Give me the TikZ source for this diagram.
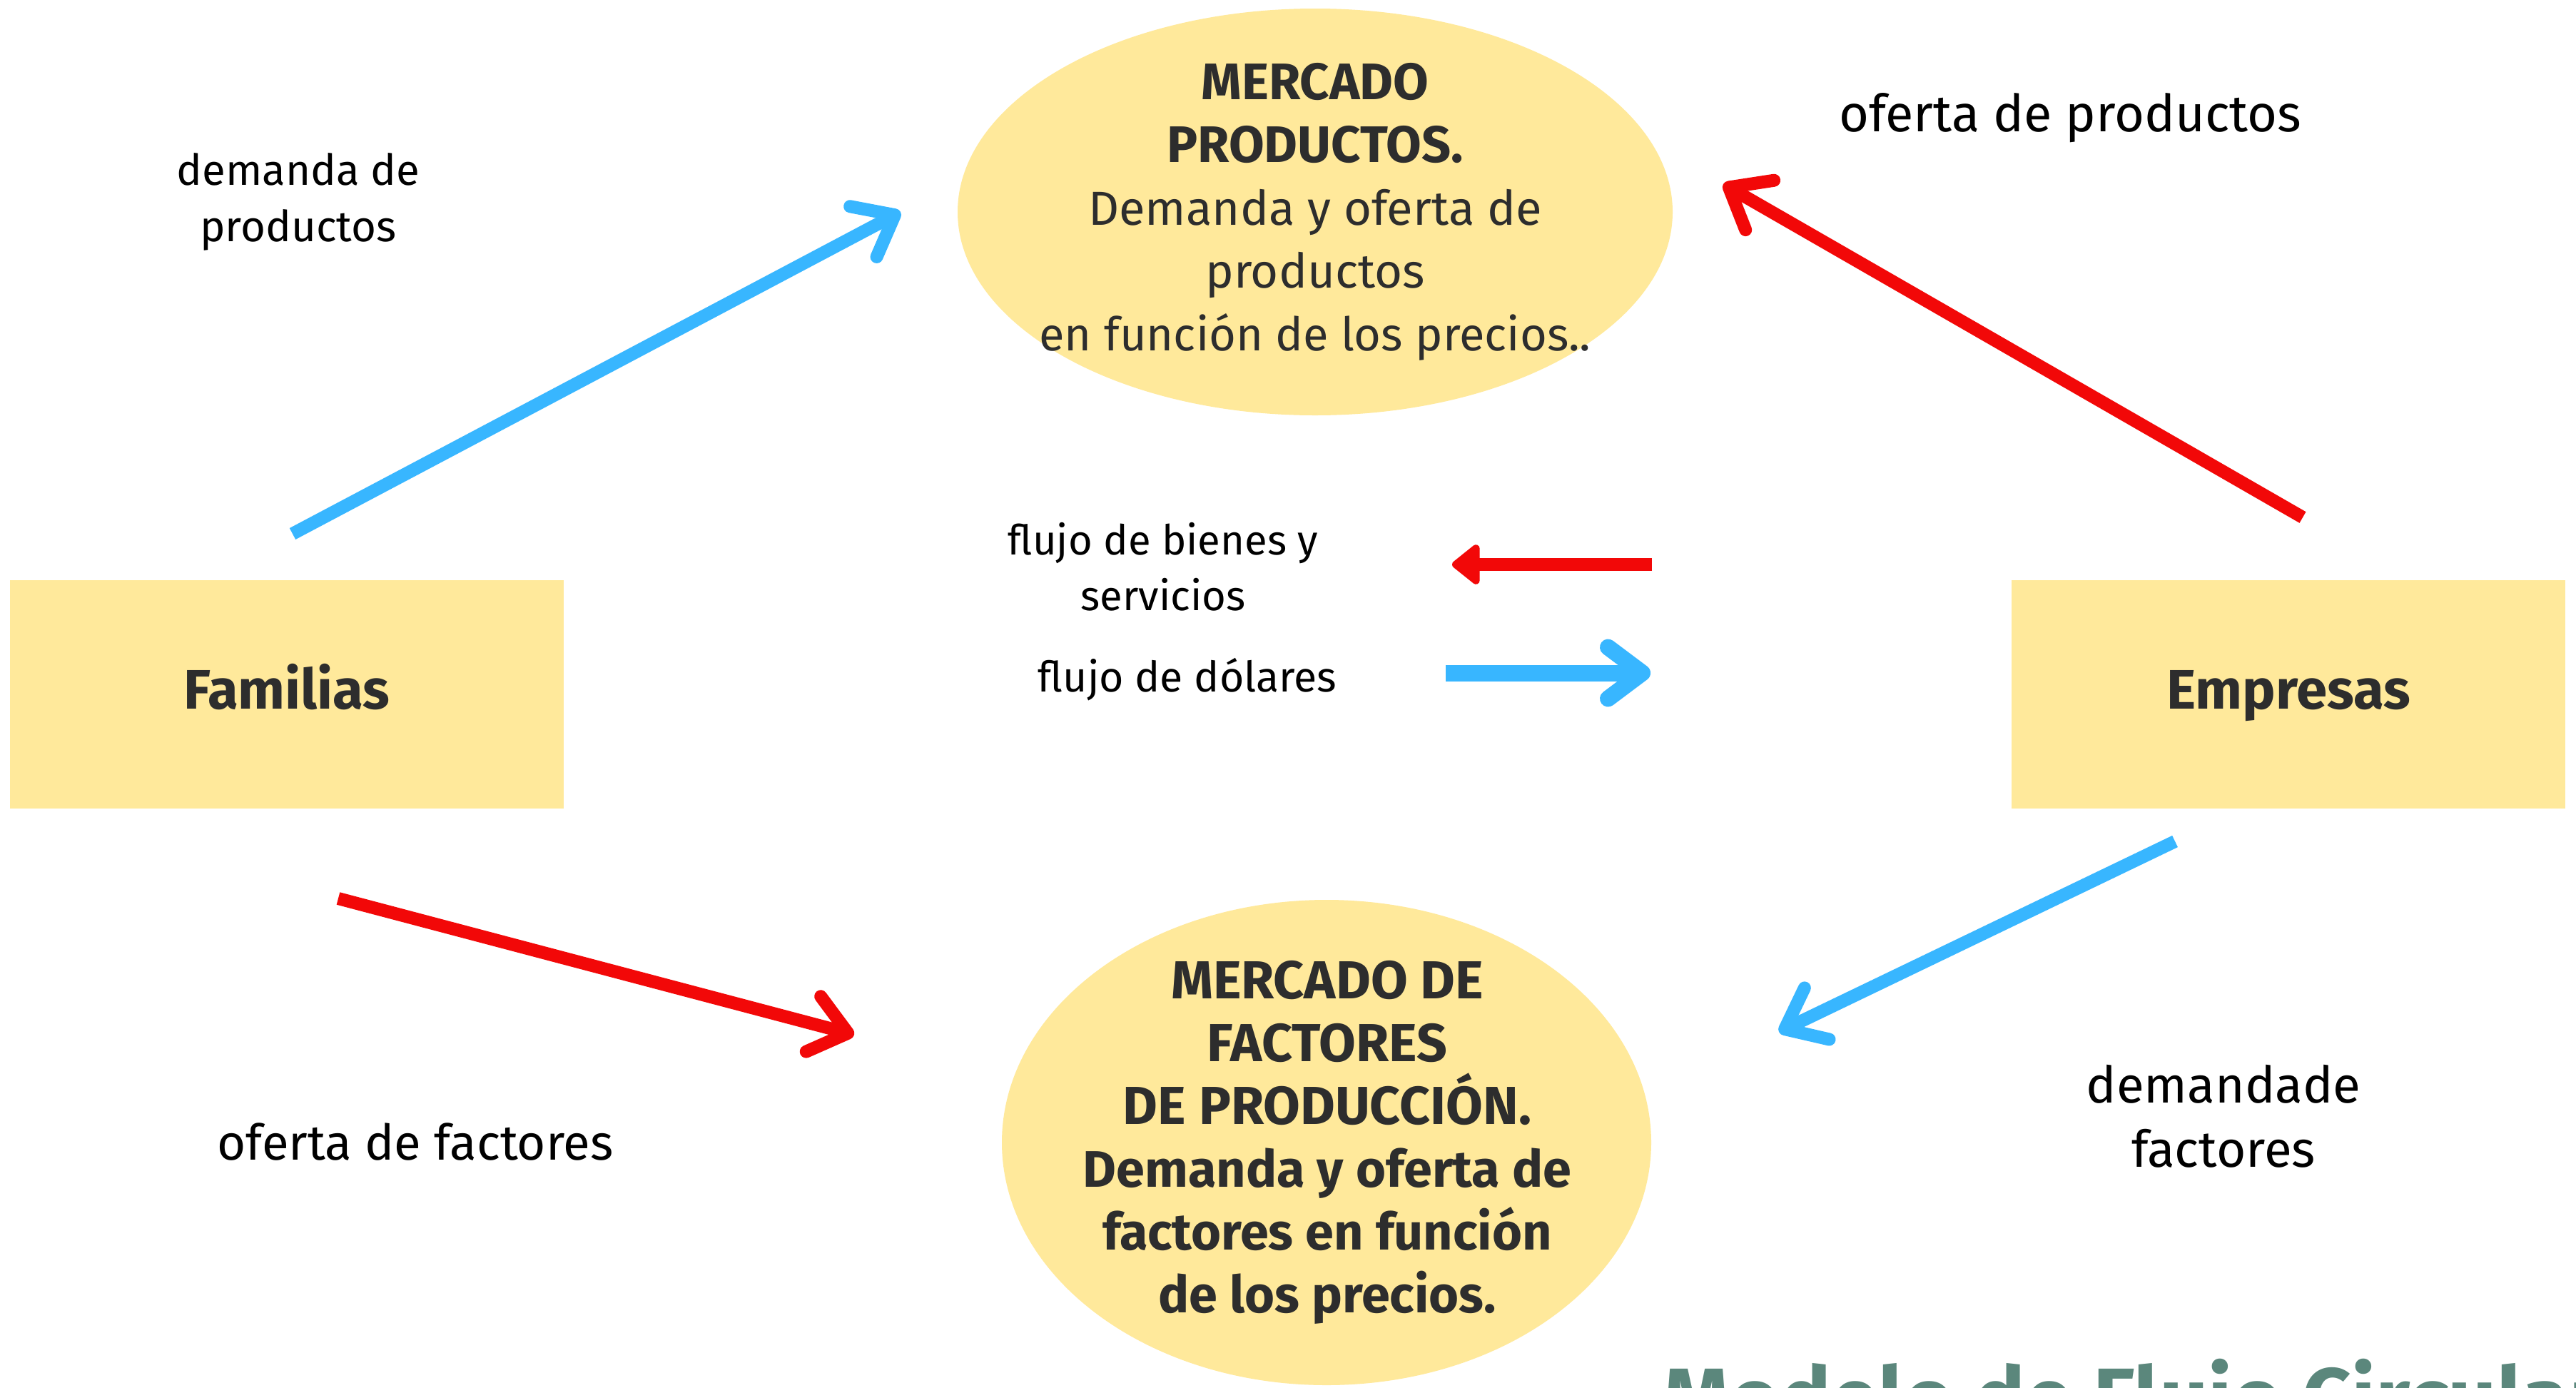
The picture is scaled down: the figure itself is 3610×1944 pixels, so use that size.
\documentclass[tikz,border=0pt]{standalone}
\usepackage{fontspec}
\setmainfont{Fira Sans}
\usetikzlibrary{arrows.meta,shapes.geometric}
\definecolor{yel}{HTML}{FFE99B}
\definecolor{bl}{HTML}{38B6FF}
\definecolor{rd}{HTML}{F20808}
\definecolor{dk}{HTML}{2D2D2D}
\definecolor{grn}{HTML}{5B877C}
\newcommand\myfs[2]{\fontsize{#1}{#2}\selectfont}
\begin{document}
\begin{tikzpicture}[x=1pt,y=-1pt,
  box/.style={fill=yel, draw=none, minimum width=776pt, minimum height=320pt, inner sep=0pt},
  boxtext/.style={anchor=base, inner sep=0pt, font=\myfs{78}{90}\bfseries, text=dk},
  mkt/.style={ellipse, fill=yel, draw=none, inner sep=0pt},
  mkttext/.style={align=center, inner sep=0pt, text=dk},
  lbl/.style={align=center, inner sep=0pt, text=black},
  barb/.style={line width=18pt, -{Straight Barb[round,length=50pt,width=80pt]}}]
\useasboundingbox (0,0) rectangle (3610,1944);
\fill[white] (0,0) rectangle (3610,1944);

% markets
\node[mkt, minimum width=1002pt, minimum height=570pt] (mp) at (1843,297) {};
\node[mkttext, font=\myfs{67}{88}] (mpt) at (1843,297)
  {\fontsize{72}{88}\selectfont\textbf{MERCADO}\\\fontsize{72}{88}\selectfont\textbf{PRODUCTOS.}\\Demanda y oferta de\\productos\\\fontsize{65}{88}\selectfont en función de los precios..};
\node[mkt, minimum width=910pt, minimum height=680pt] (mf) at (1859,1601) {};
\node[mkttext, font=\myfs{72}{88}\bfseries] (mft) at (1860,1601)
  {\fontsize{75}{88}\selectfont MERCADO DE\\\fontsize{75}{88}\selectfont FACTORES\\\fontsize{75}{88}\selectfont DE PRODUCCIÓN.\\Demanda y oferta de\\factores en función\\de los precios.};

% agents
\node[box] (fam) at (402,973) {};
\node[boxtext] (famt) at (402,993) {Familias};
\node[box] (emp) at (3207,973) {};
\node[boxtext] (empt) at (3207,993) {Empresas};

% labels
\node[lbl, font=\myfs{60}{79}] (l1) at (418,283) {demanda de\\productos};
\node[lbl, font=\myfs{72}{80}] (l2) at (2901,165) {oferta de productos};
\node[lbl, font=\myfs{58}{78}] (l3) at (1630,794) {flujo de bienes y\\servicios};
\node[lbl, font=\myfs{59}{78}] (l4) at (1664,952) {flujo de dólares};
\node[lbl, font=\myfs{69}{80}] (l5) at (582,1600) {oferta de factores};
\node[lbl, font=\myfs{71}{90}] (l6) at (3116,1564) {demandade\\factores};

% connector end points
\coordinate (a1s) at (410,748);  \coordinate (a1e) at (1262,297);
\coordinate (a2s) at (3227,725); \coordinate (a2e) at (2415,258);
\coordinate (a3s) at (474,1259); \coordinate (a3e) at (1197,1450);
\coordinate (a4s) at (3048,1179);\coordinate (a4e) at (2493,1446);
\coordinate (a5s) at (2315,791); \coordinate (a5e) at (2035,791);
\coordinate (a6s) at (2026,943); \coordinate (a6e) at (2313,943);

\draw[barb, bl] (a1s) -- (a1e);
\draw[barb, rd] (a2s) -- (a2e);
\draw[barb, rd] (a3s) -- (a3e);
\draw[barb, bl] (a4s) -- (a4e);
\draw[rd, line width=18pt, -{Triangle[round,length=42pt,width=64pt]}] (a5s) -- (a5e);
\draw[bl, line width=23pt, -{Straight Barb[round,length=48pt,width=72pt]}] (a6s) -- (a6e);

% title (cut by page edge)
\begin{scope}
\clip (0,0) rectangle (3610,1944);
\node[anchor=north west, inner sep=0pt, font=\myfs{120}{130}\bfseries, text=grn] (title) at (2330,1904) {Modelo de Flujo Circular};
\end{scope}
\end{tikzpicture}
\end{document}
